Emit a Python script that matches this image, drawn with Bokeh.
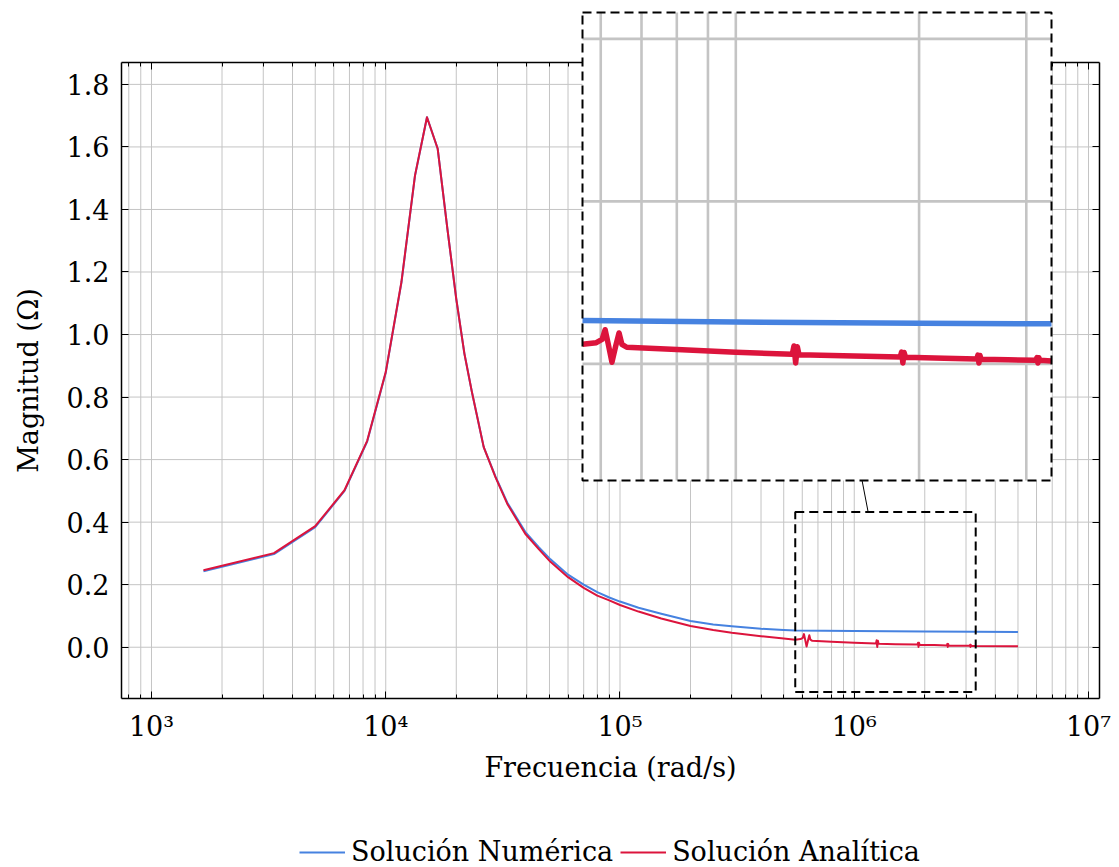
import math
from bokeh.plotting import figure
from bokeh.models import (Range1d, LogScale, LinearScale, LogAxis, LinearAxis, FixedTicker,
                          NumeralTickFormatter, CustomJSTickFormatter, Legend, LegendItem)
from bokeh.core.properties import value
from bokeh.embed import file_html
from bokeh.resources import INLINE

# ---------------- data ----------------
freq_num = [1667, 3333, 5000, 6667, 8333, 10000,
            11667, 13333, 15000, 16667, 18333, 20000,
            21667, 23333, 26200, 29400, 33000, 39400,
            45000, 50500, 60000, 70000, 80000, 90000,
            100000, 120000, 150000, 200000, 250000, 300000,
            400000, 500000, 560000, 1000000, 2000000, 3300000,
            5000000]
mag_num = [0.243, 0.298, 0.384, 0.500, 0.658, 0.878,
           1.166, 1.508, 1.695, 1.594, 1.338, 1.114,
           0.939, 0.816, 0.640, 0.546, 0.463, 0.369,
           0.320, 0.281, 0.232, 0.200, 0.176, 0.159,
           0.146, 0.126, 0.107, 0.084, 0.073, 0.067,
           0.059, 0.055, 0.0533, 0.0515, 0.0500, 0.0492,
           0.0490]

freq_ana = [1667, 3333, 5000, 6667, 8333, 10000,
            11667, 13333, 15000, 16667, 18333, 20000,
            21667, 23333, 26200, 29400, 33000, 39400,
            45000, 50500, 60000, 70000, 80000, 90000,
            100000, 120000, 150000, 200000, 250000, 300000,
            400000, 500000, 560000, 590000, 603000, 610000,
            617000, 626000, 635000, 643000, 650000, 662000,
            800000, 1000000, 1238000, 1246000, 1254000, 1262000,
            1270000, 1500000, 1862000, 1872000, 1881000, 1890000,
            1900000, 2200000, 2488000, 2498000, 2508000, 2518000,
            2528000, 2800000, 3112000, 3124000, 3135000, 3146000,
            3158000, 3300000, 5000000]
mag_ana = [0.246, 0.301, 0.387, 0.502, 0.660, 0.880,
           1.168, 1.509, 1.695, 1.594, 1.338, 1.114,
           0.939, 0.816, 0.640, 0.544, 0.459, 0.363,
           0.314, 0.273, 0.224, 0.190, 0.165, 0.150,
           0.135, 0.114, 0.092, 0.068, 0.055, 0.046,
           0.035, 0.028, 0.024, 0.026, 0.030, 0.042,
           0.025, 0.002, 0.022, 0.038, 0.024, 0.0204,
           0.0175, 0.0143, 0.0118, 0.022, 0.001, 0.021,
           0.0112, 0.0098, 0.0085, 0.0145, 0.0010, 0.0140,
           0.0082, 0.0068, 0.0058, 0.0107, 0.0010, 0.0102,
           0.0056, 0.0050, 0.0045, 0.0078, 0.0010, 0.0075,
           0.0043, 0.0036, 0.0028]

x_major = [1e3, 1e4, 1e5, 1e6, 1e7]
x_major_labels = ["10³", "10⁴", "10⁵", "10⁶", "10⁷"]
x_minor_mult = [2, 3, 4, 5, 6, 7, 8, 9]
x_minor_decades = [1e2, 1e3, 1e4, 1e5, 1e6]
y_major = [0.0, 0.2, 0.4, 0.6, 0.8, 1.0, 1.2, 1.4, 1.6, 1.8]

label_num = "Solución Numérica"
label_ana = "Solución Analítica"
xlabel = "Frecuencia (rad/s)"
ylabel = "Magnitud (Ω)"

# ---------------- styling / layout ----------------
FONT = "DejaVu Serif"
FS = "27px"
BLUE = "#4682e0"
RED = "#dc143c"
GRID = "#c4c4c4"

W, H = 1119, 867
MAIN_L, MAIN_R, MAIN_T, MAIN_B = 121, 1099, 62, 698     # main axis box (px)
X_LIM = (10 ** 2.872, 10 ** 7.047)
Y_LIM = (-0.164, 1.870)
SPY_X = (5.6e5, 3.3e6)
SPY_Y = (-0.1436, 0.4324)
INSET = (582, 1051, 12, 480)  # left, right, top, bottom (px)
XLABEL_PX = (610, 767)         # centre x, baseline y
YLABEL_PX = (28, 380)          # baseline x, centre y
LEGEND_PX = (299, 0)

lx0, lx1 = math.log10(X_LIM[0]), math.log10(X_LIM[1])
ppd = (MAIN_R - MAIN_L) / (lx1 - lx0)
ppu = (MAIN_B - MAIN_T) / (Y_LIM[1] - Y_LIM[0])
xr0 = 10 ** (lx0 - MAIN_L / ppd)
xr1 = 10 ** (lx1 + (W - MAIN_R) / ppd)
yr0 = Y_LIM[0] - (H - MAIN_B) / ppu
yr1 = Y_LIM[1] + MAIN_T / ppu

il, ir, it, ib = INSET
ippd = (ir - il) / (math.log10(SPY_X[1]) - math.log10(SPY_X[0]))
ix0 = 10 ** (math.log10(SPY_X[0]) - il / ippd)
ix1 = 10 ** (math.log10(SPY_X[1]) + (W - ir) / ippd)
ippu = (ib - it) / (SPY_Y[1] - SPY_Y[0])
iy1 = SPY_Y[1] + it / ippu
iy0 = SPY_Y[0] - (H - ib) / ippu


def px_of_main(f, v):
    return MAIN_L + (math.log10(f) - lx0) * ppd, MAIN_T + (Y_LIM[1] - v) * ppu


def main_of_px(sx, sy):
    return 10 ** (lx0 + (sx - MAIN_L) / ppd), Y_LIM[1] - (sy - MAIN_T) / ppu


x_minor = [m * d for d in x_minor_decades for m in x_minor_mult
           if X_LIM[0] <= m * d <= X_LIM[1]]
x_grid = sorted([v for v in x_major if X_LIM[0] <= v <= X_LIM[1]] + x_minor)

p = figure(width=W, height=H, x_axis_type="log", title=None,
           x_range=Range1d(xr0, xr1), y_range=Range1d(yr0, yr1),
           output_backend="svg", toolbar_location=None, min_border=0)
p.outline_line_color = None
p.xgrid.visible = False
p.ygrid.visible = False
p.extra_x_ranges = {"ix": Range1d(ix0, ix1)}
p.extra_x_scales = {"ix": LogScale()}
p.extra_y_ranges = {"iy": Range1d(iy0, iy1)}
p.extra_y_scales = {"iy": LinearScale()}


def style_axis(ax):
    ax.axis_line_width = 1.5
    ax.axis_line_color = "black"
    ax.major_tick_line_color = "black"
    ax.minor_tick_line_color = "black"
    ax.major_tick_out = 0
    ax.minor_tick_out = 0
    ax.major_label_text_font = FONT
    ax.major_label_text_font_size = FS
    ax.major_label_text_color = "black"


blank = CustomJSTickFormatter(code="return ''")

# bottom axis
xa = p.xaxis[0]
style_axis(xa)
xa.fixed_location = Y_LIM[0]
xa.bounds = X_LIM
xa.ticker = FixedTicker(ticks=x_major, minor_ticks=x_minor)
xa.major_label_overrides = {int(v): s for v, s in zip(x_major, x_major_labels)}
xa.major_tick_in = 7
xa.minor_tick_in = 4
xa.major_label_standoff = 12

# left axis
ya = p.yaxis[0]
style_axis(ya)
ya.fixed_location = X_LIM[0]
ya.bounds = Y_LIM
ya.ticker = FixedTicker(ticks=y_major)
ya.formatter = NumeralTickFormatter(format="0.0")
ya.major_tick_in = 7
ya.minor_tick_in = 0
ya.major_label_standoff = 12

top_axis = LogAxis(ticker=FixedTicker(ticks=x_major, minor_ticks=x_minor), formatter=blank,
                   fixed_location=Y_LIM[1], bounds=X_LIM, level="underlay")
style_axis(top_axis)
top_axis.major_tick_in = 7
top_axis.minor_tick_in = 4
p.add_layout(top_axis, "above")

right_axis = LinearAxis(ticker=FixedTicker(ticks=y_major), formatter=blank,
                        fixed_location=X_LIM[1], bounds=Y_LIM)
style_axis(right_axis)
right_axis.major_tick_in = 7
right_axis.minor_tick_in = 0
p.add_layout(right_axis, "right")

# axis titles
xl = main_of_px(*XLABEL_PX)
p.text(x=[xl[0]], y=[xl[1]], text=[xlabel], text_align="center", text_baseline="alphabetic",
       text_font=value(FONT), text_font_size=value(FS), text_color="black")
yl = main_of_px(*YLABEL_PX)
p.text(x=[yl[0]], y=[yl[1]], text=[ylabel], angle=math.pi / 2, text_align="center",
       text_baseline="alphabetic", text_font=value(FONT), text_font_size=value(FS),
       text_color="black")

# main grid
p.segment(x0=x_grid, y0=[Y_LIM[0]] * len(x_grid), x1=x_grid, y1=[Y_LIM[1]] * len(x_grid),
          line_color=GRID, line_width=1, level="underlay")
p.segment(x0=[X_LIM[0]] * len(y_major), y0=y_major, x1=[X_LIM[1]] * len(y_major), y1=y_major,
          line_color=GRID, line_width=1, level="underlay")

# main curves
r_num = p.line(freq_num, mag_num, line_color=BLUE, line_width=2, line_join="round")
r_ana = p.line(freq_ana, mag_ana, line_color=RED, line_width=2, line_join="round")

# spy rectangle on main plot
p.quad(left=[SPY_X[0]], right=[SPY_X[1]], bottom=[SPY_Y[0]], top=[SPY_Y[1]],
       fill_color=None, line_color="black", line_width=2, line_dash="9 5")

# connector line (between centres, clipped to boxes)
sl, st = px_of_main(SPY_X[0], SPY_Y[1])
sr, sb = px_of_main(SPY_X[1], SPY_Y[0])
c1 = ((il + ir) / 2, (it + ib) / 2)
c2 = ((sl + sr) / 2, (st + sb) / 2)
t1 = (ib - c1[1]) / (c2[1] - c1[1])
t2 = (st - c1[1]) / (c2[1] - c1[1])
pa = main_of_px(c1[0] + t1 * (c2[0] - c1[0]), ib)
pb = main_of_px(c1[0] + t2 * (c2[0] - c1[0]), st)
p.segment(x0=[pa[0]], y0=[pa[1]], x1=[pb[0]], y1=[pb[1]], line_color="black", line_width=1)

# ---------------- inset (magnified view) ----------------
R = dict(x_range_name="ix", y_range_name="iy")
p.quad(left=[SPY_X[0]], right=[SPY_X[1]], bottom=[SPY_Y[0]], top=[SPY_Y[1]],
       fill_color="white", line_color=None, **R)
ixg = [v for v in x_grid if SPY_X[0] <= v <= SPY_X[1]]
iyg = [v for v in y_major if SPY_Y[0] <= v <= SPY_Y[1]]
p.segment(x0=ixg, y0=[SPY_Y[0]] * len(ixg), x1=ixg, y1=[SPY_Y[1]] * len(ixg),
          line_color=GRID, line_width=2.6, **R)
p.segment(x0=[SPY_X[0]] * len(iyg), y0=iyg, x1=[SPY_X[1]] * len(iyg), y1=iyg,
          line_color=GRID, line_width=2.6, **R)


def in_spy(fs, vs):
    pts = [(f, v) for f, v in zip(fs, vs) if SPY_X[0] <= f <= SPY_X[1]]
    return [a for a, _ in pts], [b for _, b in pts]


fn, vn = in_spy(freq_num, mag_num)
fa, va = in_spy(freq_ana, mag_ana)
p.line(fn, vn, line_color=BLUE, line_width=5.5, line_join="round", **R)
p.line(fa, va, line_color=RED, line_width=5.5, line_join="round", **R)
p.quad(left=[SPY_X[0]], right=[SPY_X[1]], bottom=[SPY_Y[0]], top=[SPY_Y[1]],
       fill_color=None, line_color="black", line_width=2, line_dash="9 5", **R)

# ---------------- legend ----------------
legend = Legend(items=[LegendItem(label=label_num, renderers=[r_num]),
                       LegendItem(label=label_ana, renderers=[r_ana])],
                orientation="horizontal", location=LEGEND_PX,
                padding=0, margin=0, spacing=7, label_standoff=6, glyph_width=46,
                border_line_color=None, background_fill_alpha=0,
                label_text_font=FONT, label_text_font_size=FS, label_text_color="black")
p.add_layout(legend)

open("out.html", "w").write(file_html(p, INLINE))
